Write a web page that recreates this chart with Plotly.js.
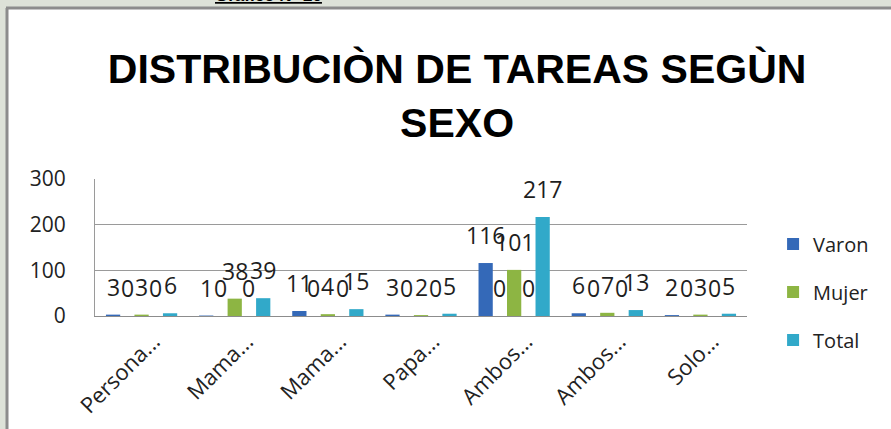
<!DOCTYPE html>
<html>
<head>
<meta charset="utf-8">
<script src="https://cdn.plot.ly/plotly-3.0.1.min.js"></script>
<style>html,body{margin:0;padding:0;background:#fff;}#chart{width:891px;height:429px;}</style>
</head>
<body>
<div id="chart"></div>
<script>
const categories = ["Persona...", "Mama...", "Mama...", "Papa...", "Ambos...", "Ambos...", "Solo..."];
const varon = [3, 1, 11, 3, 116, 6, 2];
const varonPct = [0, 0, 0, 0, 0, 0, 0];
const mujer = [3, 38, 4, 2, 101, 7, 3];
const mujerPct = [0, 0, 0, 0, 0, 0, 0];
const total = [6, 39, 15, 5, 217, 13, 5];
const yTicks = [0, 100, 200, 300];

const xIdx = categories.map((c, i) => i);
const series = [
  {name: "Varon", y: varon, color: "#3469b8", legend: true},
  {name: "Varon %", y: varonPct, color: "#3469b8", legend: false},
  {name: "Mujer", y: mujer, color: "#8db543", legend: true},
  {name: "Mujer %", y: mujerPct, color: "#8db543", legend: false},
  {name: "Total", y: total, color: "#31a9c9", legend: true}
];
const bargap = 0.235;
const slot = (1 - bargap) / series.length;

const traces = series.map((s, k) => ({
  type: "bar",
  name: s.name,
  x: xIdx,
  y: s.y,
  marker: {color: s.color},
  showlegend: s.legend,
  legendgroup: s.name,
  hoverinfo: "x+y"
}));

const annotations = [];
series.forEach((s, k) => {
  s.y.forEach((v, i) => {
    annotations.push({
      x: i + (k - (series.length - 1) / 2) * slot,
      y: v,
      xref: "x", yref: "y",
      text: String(v),
      showarrow: false,
      yanchor: "bottom",
      yshift: 10,
      font: {family: "Open Sans, sans-serif", size: 23, color: "#1e1e1e"}
    });
  });
});
annotations.push({
  xref: "paper", yref: "paper", x: (268 - 95) / 652, y: 1 + 172 / 137,
  xanchor: "center", yanchor: "bottom",
  text: "<b><u>Gráfico N° 20</u></b>", showarrow: false,
  font: {family: "Liberation Sans, Arial, sans-serif", size: 17, color: "#000"}
});

const layout = {
  width: 891, height: 429,
  margin: {l: 95, r: 144, t: 179, b: 113},
  paper_bgcolor: "#ffffff",
  plot_bgcolor: "#ffffff",
  barmode: "group",
  bargap: bargap,
  bargroupgap: 0,
  title: {
    text: "DISTRIBUCIÒN DE TAREAS SEGÙN<br>SEXO",
    x: 0.513, xanchor: "center",
    y: 0.806, yanchor: "top",
    font: {family: "Liberation Sans, Arial, sans-serif", size: 41, color: "#000", weight: "bold"}
  },
  xaxis: {
    range: [-0.5, categories.length - 0.5],
    tickvals: xIdx,
    ticktext: categories,
    tickangle: -45,
    ticks: "",
    showgrid: false,
    showline: true, linecolor: "#8c8c8c", linewidth: 1,
    zeroline: false,
    ticklabelshift: 12,
    ticklabelstandoff: 3,
    tickfont: {family: "Open Sans, sans-serif", size: 22, color: "#222"},
    fixedrange: true
  },
  yaxis: {
    range: [0, 300],
    tickvals: yTicks,
    ticks: "",
    showgrid: true, gridcolor: "#9a9a9a", gridwidth: 1,
    showline: true, linecolor: "#9a9a9a", linewidth: 1,
    zeroline: false,
    ticklabelstandoff: 24,
    tickfont: {family: "Open Sans, sans-serif", size: 21, color: "#222"},
    fixedrange: true
  },
  legend: {
    x: 1.04, xanchor: "left", y: 0.175, yanchor: "middle",
    traceorder: "grouped", tracegroupgap: 19,
    font: {family: "Open Sans, sans-serif", size: 20, color: "#222"},
    bgcolor: "rgba(0,0,0,0)"
  },
  annotations: annotations,
  shapes: [
    {type: "rect", xref: "paper", yref: "paper", x0: -1, x1: 2, y0: 1 + 171 / 137, y1: 1 + 190 / 137, fillcolor: "#dde2d8", line: {width: 0}, layer: "below"},
    {type: "rect", xref: "paper", yref: "paper", x0: -95 / 652, x1: -89 / 652, y0: -2, y1: 1 + 171 / 137, fillcolor: "#dde2d8", line: {width: 0}, layer: "below"},
    {type: "line", xref: "paper", yref: "paper", x0: -89 / 652, x1: 2, y0: 1 + 171 / 137, y1: 1 + 171 / 137, line: {color: "#8c8c8c", width: 3}},
    {type: "line", xref: "paper", yref: "paper", x0: -88 / 652, x1: -88 / 652, y0: -2, y1: 1 + 171 / 137, line: {color: "#8c8c8c", width: 3}}
  ]
};

Plotly.newPlot("chart", traces, layout, {displayModeBar: false, staticPlot: true});
</script>
</body>
</html>
